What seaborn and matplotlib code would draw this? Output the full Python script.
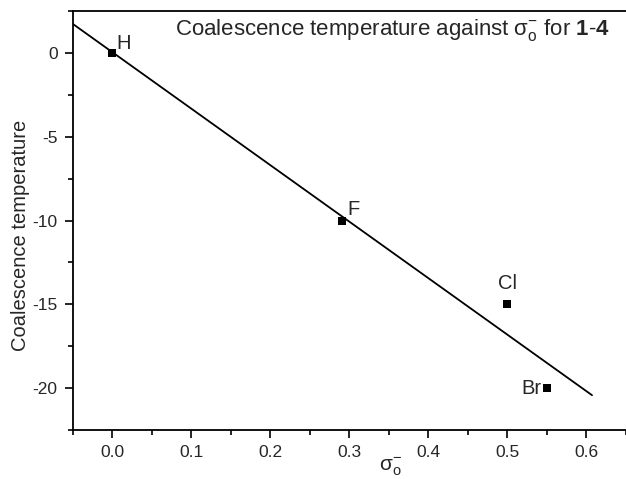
import numpy as np
import pandas as pd
import matplotlib
matplotlib.use("Agg")
import matplotlib.pyplot as plt
import seaborn as sns
from matplotlib.ticker import MultipleLocator

# data
substituents = ["H", "F", "Cl", "Br"]
sigma_values = [0.0, 0.29, 0.50, 0.55]
coalescence_temp = [0.0, -10.0, -15.0, -20.0]
fit_range = [-0.05, 0.607]

sns.set_theme(style="ticks")
plt.rcParams["font.family"] = ["Liberation Sans", "DejaVu Sans"]
plt.rcParams["mathtext.fontset"] = "custom"
plt.rcParams["mathtext.rm"] = "Liberation Sans"
plt.rcParams["mathtext.it"] = "Liberation Sans:italic"
plt.rcParams["mathtext.bf"] = "Liberation Sans:bold"
plt.rcParams["axes.unicode_minus"] = False

df = pd.DataFrame({"sub": substituents, "sigma": sigma_values, "T": coalescence_temp})

slope, intercept = np.polyfit(sigma_values, coalescence_temp, 1)
fit_df = pd.DataFrame({"x": fit_range})
fit_df["y"] = intercept + slope * fit_df["x"]

fig = plt.figure(figsize=(6.26, 4.79), dpi=100)
ax = fig.add_axes([0.1166, 0.102, 0.8834, 0.875])

sns.lineplot(data=fit_df, x="x", y="y", ax=ax, color="black", linewidth=1.3)
sns.scatterplot(data=df, x="sigma", y="T", ax=ax, marker="s", color="black",
                s=40, edgecolor="black", linewidth=0, zorder=5)

offsets = {"H": (3, 0, "left", "bottom"),
           "F": (4, 1, "left", "bottom"),
           "Cl": (0, 8, "center", "bottom"),
           "Br": (-4, 0, "right", "center")}
for s, xv, yv in zip(substituents, sigma_values, coalescence_temp):
    dx, dy, ha, va = offsets[s]
    ax.annotate(s, (xv, yv), xytext=(dx, dy), textcoords="offset points",
                ha=ha, va=va, fontsize=14.5)

ax.set_xlim(-0.05, 0.65)
ax.set_ylim(-22.5, 2.5)
ax.xaxis.set_major_locator(MultipleLocator(0.1))
ax.xaxis.set_minor_locator(MultipleLocator(0.05))
ax.yaxis.set_major_locator(MultipleLocator(5))
ax.yaxis.set_minor_locator(MultipleLocator(2.5))
ax.xaxis.set_major_formatter(matplotlib.ticker.FormatStrFormatter("%.1f"))
ax.yaxis.set_major_formatter(matplotlib.ticker.FormatStrFormatter("%d"))
ax.tick_params(which="major", direction="out", length=6, width=1.2, labelsize=12.5, color="black", pad=5)
ax.tick_params(which="minor", direction="out", length=3.5, width=1.2, color="black")
ax.spines["right"].set_visible(False)
for sp in ["left", "bottom", "top"]:
    ax.spines[sp].set_linewidth(1.3)
    ax.spines[sp].set_color("black")

ax.set_ylabel("Coalescence temperature", fontsize=14.5, va="center")
ax.yaxis.set_label_coords(-0.095, 0.465)
ax.set_xlabel(r"$\mathrm{\sigma}_{\mathrm{o}}^{\mathrm{-}}$", fontsize=15, va="top")
ax.xaxis.set_label_coords(0.574, -0.06)

ax.text(0.971, 0.985,
        r"Coalescence temperature against $\mathrm{\sigma}_{\mathrm{o}}^{\mathrm{-}}$ for $\mathbf{1}$-$\mathbf{4}$",
        transform=ax.transAxes, ha="right", va="top", fontsize=16)

fig.savefig("out.png", dpi=100)
